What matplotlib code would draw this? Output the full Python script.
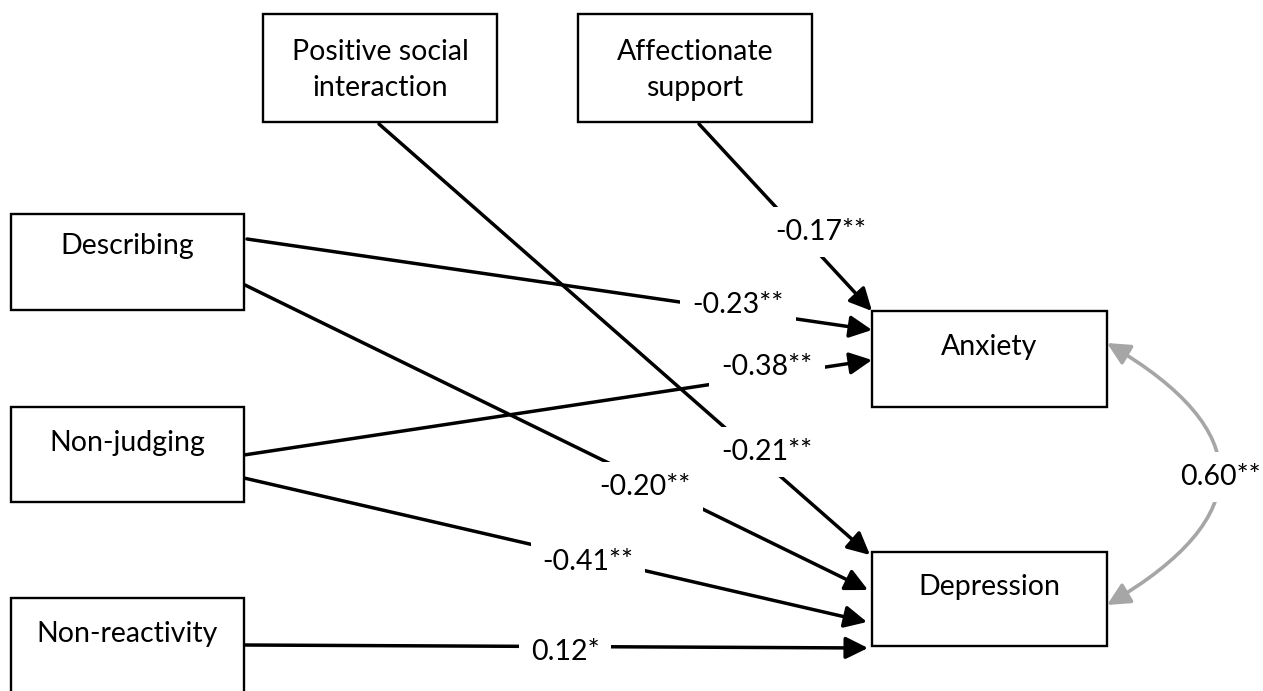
import matplotlib
matplotlib.use("Agg")
import matplotlib.pyplot as plt
from matplotlib.patches import Rectangle, FancyArrowPatch

plt.rcParams['font.family'] = ['Lato', 'DejaVu Sans']

# path model data
nodes = ["Positive social\ninteraction", "Affectionate\nsupport", "Describing",
         "Non-judging", "Non-reactivity", "Anxiety", "Depression"]
path_from = ["Affectionate\nsupport", "Describing", "Non-judging",
             "Positive social\ninteraction", "Describing", "Non-judging", "Non-reactivity"]
path_to = ["Anxiety", "Anxiety", "Anxiety", "Depression", "Depression", "Depression", "Depression"]
path_coef = ["-0.17**", "-0.23**", "-0.38**", "-0.21**", "-0.20**", "-0.41**", "0.12*"]
corr_pair = ("Anxiety", "Depression")
corr_coef = "0.60**"

# layout (pixel space, y down): box x0, y0, x1, y1, text y
boxes = {
    "Positive social\ninteraction": (263, 14, 497, 122, 70),
    "Affectionate\nsupport": (578, 14, 812, 122, 70),
    "Describing": (11, 214, 244, 310, 246),
    "Non-judging": (11, 407, 244, 502, 443),
    "Non-reactivity": (11, 598, 244, 720, 634),
    "Anxiety": (872, 311, 1107, 407, 347),
    "Depression": (872, 552, 1107, 646, 587),
}
starts = [(699, 124), (247, 239), (244, 455), (379, 124), (245, 285), (244, 478), (244, 645)]
ends = [(872, 311), (872, 330), (872, 360), (870, 555), (868, 590), (867, 622), (868, 648)]
label_xy = [(821, 232), (738, 305), (767, 367), (767, 452), (645, 487), (588, 562), (565, 652)]


def main():
    fig = plt.figure(figsize=(12.63, 6.91), dpi=100)
    ax = fig.add_axes([0, 0, 1, 1])
    ax.set_xlim(0, 1263)
    ax.set_ylim(691, 0)
    ax.axis('off')

    for name in nodes:
        x0, y0, x1, y1, ty = boxes[name]
        ax.add_patch(Rectangle((x0, y0), x1 - x0, y1 - y0, facecolor='white',
                               edgecolor='black', linewidth=1.7, zorder=2))
        ax.text((x0 + x1) / 2, ty, name, ha='center', va='center', fontsize=20.5,
                linespacing=1.5, zorder=3)

    for i in range(len(path_coef)):
        arr = FancyArrowPatch(starts[i], ends[i], arrowstyle='-|>,head_length=0.85,head_width=0.42',
                              mutation_scale=16, linewidth=2.5, color='black',
                              shrinkA=0, shrinkB=0, zorder=1)
        ax.add_patch(arr)
        ax.text(label_xy[i][0], label_xy[i][1], path_coef[i], ha='center', va='center',
                fontsize=20.5, zorder=4,
                bbox=dict(boxstyle='square,pad=0.42', facecolor='white', edgecolor='none'))

    # correlation between outcomes
    a = boxes[corr_pair[0]]
    b = boxes[corr_pair[1]]
    arc = FancyArrowPatch((a[2], 343), (b[2], 605), connectionstyle='arc3,rad=-0.85',
                          arrowstyle='<|-|>,head_length=0.85,head_width=0.42',
                          mutation_scale=16, linewidth=2.6, color='#a6a6a6',
                          shrinkA=0, shrinkB=0, zorder=1)
    ax.add_patch(arc)
    ax.text(1220, 477, corr_coef, ha='center', va='center', fontsize=20.5, zorder=4,
            bbox=dict(boxstyle='square,pad=0.42', facecolor='white', edgecolor='none'))

    fig.savefig('out.png', dpi=100)


if __name__ == '__main__':
    main()
